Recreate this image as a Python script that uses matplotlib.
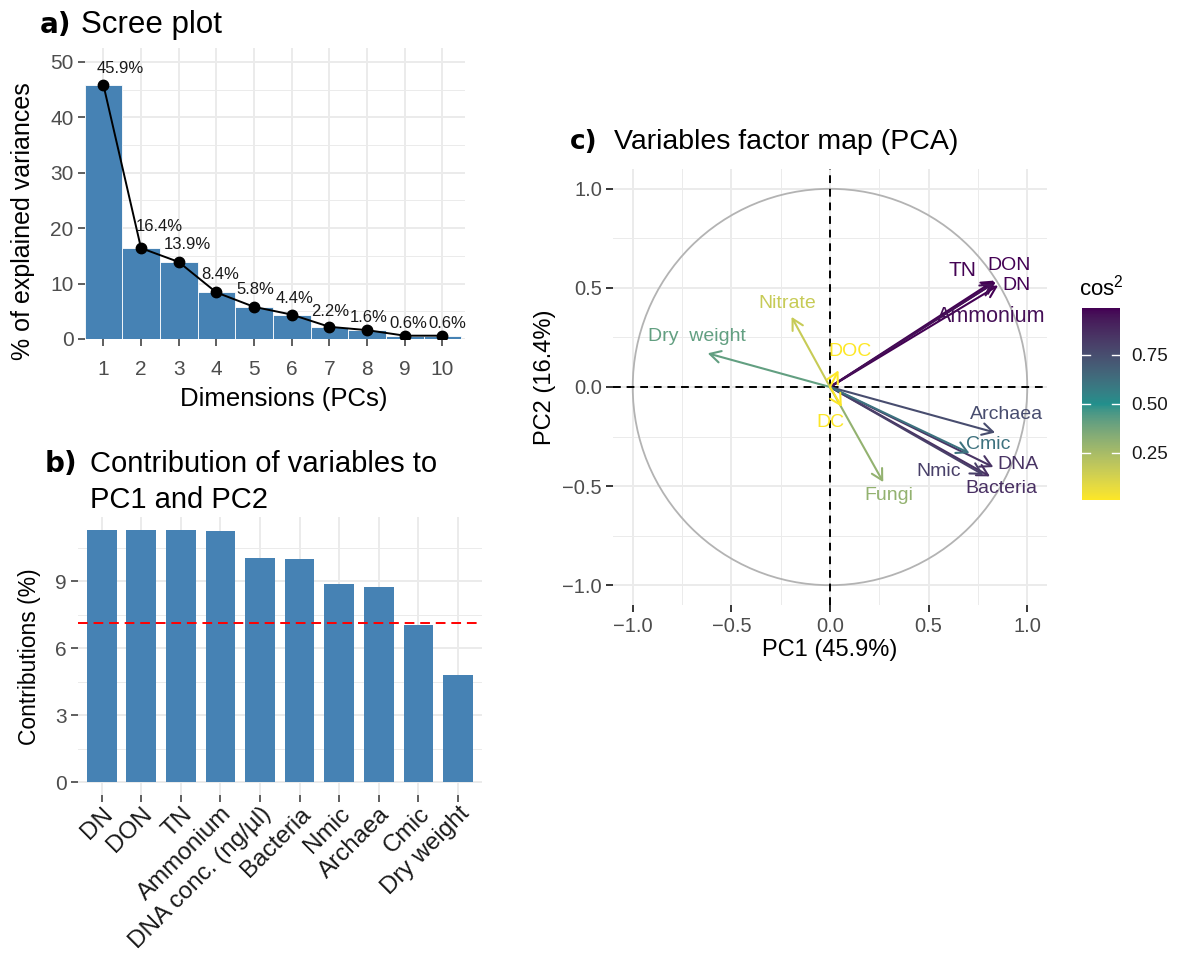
import numpy as np
import matplotlib
matplotlib.use('Agg')
import matplotlib.pyplot as plt
from matplotlib.patches import Circle
from matplotlib import cm, colors, ticker

plt.rcParams['font.family'] = ['Liberation Sans', 'DejaVu Sans']
plt.rcParams['mathtext.default'] = 'regular'

# ---- data ----
# a) scree plot
dims = np.arange(1, 11)
eig_pct = [45.9, 16.4, 13.9, 8.4, 5.8, 4.4, 2.2, 1.6, 0.6, 0.6]

# b) contributions to PC1 + PC2 (top 10)
contrib_names = ['DN', 'DON', 'TN', 'Ammonium', 'DNA conc. (ng/µl)', 'Bacteria',
                 'Nmic', 'Archaea', 'Cmic', 'Dry weight']
contrib_vals = [11.3, 11.3, 11.3, 11.25, 10.03, 10.0, 8.9, 8.76, 7.04, 4.8]

# c) variable coordinates on PC1 / PC2
var_names = ['DN', 'DON', 'TN', 'Ammonium', 'DNA', 'Bacteria', 'Nmic', 'Archaea',
             'Cmic', 'Dry  weight', 'Nitrate', 'Fungi', 'DOC', 'DC']
pc1 = [0.852, 0.840, 0.833, 0.828, 0.828, 0.811, 0.778, 0.837, 0.707, -0.620, -0.195, 0.270, 0.043, 0.060]
pc2 = [0.512, 0.530, 0.537, 0.522, -0.404, -0.451, -0.443, -0.230, -0.334, 0.170, 0.354, -0.480, 0.084, -0.100]

# gradient colours for cos2 (low -> high)
grad_cols = ['#FDE725', '#21908C', '#440154']


# ---- colour gradient interpolated in Lab (like ggplot) ----
def hex_to_lab(h):
    rgb = np.array(colors.to_rgb(h))
    lin = np.where(rgb <= 0.04045, rgb / 12.92, ((rgb + 0.055) / 1.055) ** 2.4)
    M = np.array([[0.4124, 0.3576, 0.1805], [0.2126, 0.7152, 0.0722], [0.0193, 0.1192, 0.9505]])
    xyz = M @ lin / np.array([0.95047, 1.0, 1.08883])
    f = np.where(xyz > 0.008856, np.cbrt(xyz), 7.787 * xyz + 16 / 116)
    return np.array([116 * f[1] - 16, 500 * (f[0] - f[1]), 200 * (f[1] - f[2])])


def lab_to_rgb(lab):
    L, a, b = lab
    fy = (L + 16) / 116
    fx = fy + a / 500
    fz = fy - b / 200
    f = np.array([fx, fy, fz])
    xyz = np.where(f ** 3 > 0.008856, f ** 3, (f - 16 / 116) / 7.787) * np.array([0.95047, 1.0, 1.08883])
    Minv = np.array([[3.2406, -1.5372, -0.4986], [-0.9689, 1.8758, 0.0415], [0.0557, -0.2040, 1.0570]])
    lin = Minv @ xyz
    rgb = np.where(lin <= 0.0031308, 12.92 * lin, 1.055 * np.power(np.clip(lin, 0, None), 1 / 2.4) - 0.055)
    return np.clip(rgb, 0, 1)


labs = [hex_to_lab(c) for c in grad_cols]
cmap_list = []
for t in np.linspace(0, 1, 256):
    seg = min(int(t * 2), 1)
    u = t * 2 - seg
    cmap_list.append(lab_to_rgb(labs[seg] * (1 - u) + labs[seg + 1] * u))
cmap = colors.ListedColormap(cmap_list)

# ---- layout helpers (pixels) ----
W, H = 1178, 956
fig = plt.figure(figsize=(W / 100, H / 100), dpi=100)


def px_axes(l, t, r, b):
    return fig.add_axes([l / W, 1 - b / H, (r - l) / W, (b - t) / H])


def px_text(x, y, s, **kw):
    return fig.text(x / W, 1 - y / H, s, **kw)


def style_axes(ax):
    for s in ax.spines.values():
        s.set_visible(False)
    ax.tick_params(which='major', length=5, width=1.1, color='#333333',
                   labelcolor='#4d4d4d', labelsize=15)
    ax.tick_params(which='minor', length=0)
    ax.grid(which='major', color='#ebebeb', lw=1.4)
    ax.grid(which='minor', color='#ebebeb', lw=0.7)
    ax.set_axisbelow(True)


minus_fmt = ticker.FuncFormatter(lambda v, p: f'{v:.1f}'.replace('-', '\u2212'))

# ================= a) Scree plot =================
ax1 = px_axes(84.5, 48, 465, 339)
style_axes(ax1)
ax1.bar(dims, eig_pct, width=1.0, color='#4682b4', edgecolor='white', lw=0.6)
ax1.plot(dims, eig_pct, color='black', lw=1.4, marker='o', ms=7.5)
# label nudges (px) as placed in the original
lab_dx = [16.7, 18.7, 8.3, 3.6, 0.9, 3.2, 0.8, 1.5, 3.2, 5.3]
lab_dy = [12, 17, 12.7, 13.7, 13, 11.7, 10.7, 8.3, 7.3, 7.3]
for d, v, dx, dy in zip(dims, eig_pct, lab_dx, lab_dy):
    ax1.annotate(f'{v}%', (d, v), xytext=(dx * 0.72, dy * 0.72), textcoords='offset points',
                 ha='center', va='baseline', fontsize=12, color='#1a1a1a')
ax1.set_xlim(0.5, 10.6)
ax1.set_ylim(0, 52.5)
ax1.set_xticks(dims)
ax1.set_yticks(np.arange(0, 51, 10))
ax1.set_yticks(np.arange(5, 50, 10), minor=True)
ax1.grid(axis='x', which='minor', visible=False)
ax1.tick_params(axis='x', pad=10)
ax1.tick_params(axis='y', pad=3)

px_text(40, 33, 'a)', family='DejaVu Sans', fontweight='bold', fontsize=20, va='baseline')
px_text(81, 33, 'Scree plot', fontsize=22.5, va='baseline')
px_text(284, 406, 'Dimensions (PCs)', fontsize=18.5, ha='center', va='baseline')
px_text(23.5, 221, '% of explained variances', fontsize=18, rotation=90, ha='center', va='center')

# ================= b) Contributions =================
ax2 = px_axes(78, 517.4, 481.7, 794.6)
style_axes(ax2)
xb = np.arange(1, len(contrib_vals) + 1)
ax2.bar(xb, contrib_vals, width=0.75, color='#4682b4')
ax2.axhline(100 / len(var_names), color='red', ls=(0, (5, 3)), lw=1.4)
top = max(contrib_vals)
ax2.set_ylim(-0.05 * top, 1.05 * top)
ax2.set_xlim(0.4, 10.6)
ax2.set_yticks([0, 3, 6, 9])
ax2.set_yticks([1.5, 4.5, 7.5, 10.5], minor=True)
ax2.set_xticks(xb)
ax2.set_xticklabels(contrib_names, rotation=45, ha='right', va='top',
                    rotation_mode='anchor', fontsize=17.5, color='#1a1a1a')
ax2.tick_params(axis='x', pad=1)
ax2.tick_params(axis='y', pad=3)

px_text(45, 471.7, 'b)', family='DejaVu Sans', fontweight='bold', fontsize=20, va='baseline')
px_text(90, 471.7, 'Contribution of variables to', fontsize=21, va='baseline')
px_text(90, 508.3, 'PC1 and PC2', fontsize=21, va='baseline')
px_text(30, 657, 'Contributions (%)', fontsize=16.5, rotation=90, ha='center', va='center')

# ================= c) Variables factor map =================
ax3 = px_axes(613, 169, 1047, 605)
style_axes(ax3)
ax3.tick_params(which='major', color='black', labelsize=14.5)
ax3.set_xlim(-1.1, 1.1)
ax3.set_ylim(-1.1, 1.1)
ax3.set_xticks([-1, -0.5, 0, 0.5, 1])
ax3.set_yticks([-1, -0.5, 0, 0.5, 1])
ax3.set_xticks([-0.75, -0.25, 0.25, 0.75], minor=True)
ax3.set_yticks([-0.75, -0.25, 0.25, 0.75], minor=True)
ax3.xaxis.set_major_formatter(minus_fmt)
ax3.yaxis.set_major_formatter(minus_fmt)
ax3.tick_params(axis='x', pad=4)
ax3.tick_params(axis='y', pad=3)

ax3.add_patch(Circle((0, 0), 1, fill=False, ec='#b3b3b3', lw=1.3))
ax3.axhline(0, color='black', ls=(0, (4, 3)), lw=1.4)
ax3.axvline(0, color='black', ls=(0, (4, 3)), lw=1.4)

cos2 = np.array(pc1) ** 2 + np.array(pc2) ** 2
norm = colors.Normalize(cos2.min(), cos2.max())

label_pos = {
    'DN': (0.943, 0.513), 'DON': (0.91, 0.612), 'TN': (0.672, 0.59),
    'Ammonium': (0.815, 0.355), 'DNA': (0.955, -0.393), 'Bacteria': (0.871, -0.51),
    'Nmic': (0.549, -0.426), 'Archaea': (0.893, -0.141), 'Cmic': (0.803, -0.292),
    'Dry  weight': (-0.675, 0.256), 'Nitrate': (-0.215, 0.42), 'Fungi': (0.30, -0.55),
    'DOC': (0.10, 0.18), 'DC': (0.0, -0.177),
}
label_size = {'Ammonium': 15.5, 'TN': 15}
for name, x, y, c2 in zip(var_names, pc1, pc2, cos2):
    col = cmap(norm(c2))
    ax3.annotate('', xy=(x, y), xytext=(0, 0),
                 arrowprops=dict(arrowstyle='->,head_length=0.55,head_width=0.3', color=col,
                                 lw=1.5, shrinkA=0, shrinkB=0, mutation_scale=14))
    lx, ly = label_pos[name]
    ax3.text(lx, ly, name, color=col, fontsize=label_size.get(name, 14), ha='center', va='center')

px_text(570, 149, 'c)', family='DejaVu Sans', fontweight='bold', fontsize=19, va='baseline')
px_text(614, 149, 'Variables factor map (PCA)', fontsize=20.5, va='baseline')
px_text(830, 656, 'PC1 (45.9%)', fontsize=17, ha='center', va='baseline')
px_text(545, 377, 'PC2 (16.4%)', fontsize=17, rotation=90, ha='center', va='center')

# colour bar
cax = px_axes(1082, 308.3, 1120, 500)
cb = fig.colorbar(cm.ScalarMappable(norm=norm, cmap=cmap), cax=cax)
cb.outline.set_visible(False)
cb.set_ticks([0.25, 0.5, 0.75])
cb.ax.yaxis.set_major_formatter(ticker.FormatStrFormatter('%.2f'))
cax.tick_params(length=0, labelsize=13.5, labelcolor='#1a1a1a', pad=8)
for t in [0.25, 0.5, 0.75]:
    cax.axhline(t, xmin=0, xmax=0.2, color='white', lw=1)
    cax.axhline(t, xmin=0.8, xmax=1, color='white', lw=1)
px_text(1101, 288, r'$\mathregular{cos^2}$', fontsize=16, ha='center', va='center')

fig.savefig('out.png', dpi=100, facecolor='white')
